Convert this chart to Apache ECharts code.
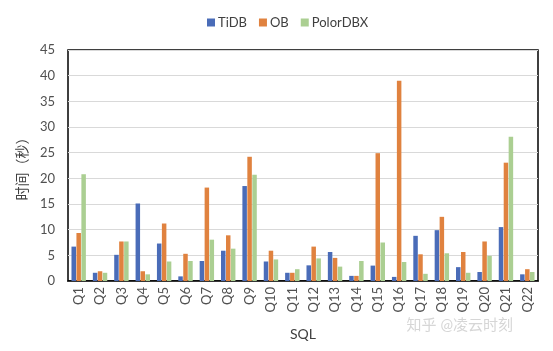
<!DOCTYPE html>
<html>
<head>
<meta charset="utf-8">
<script src="https://cdn.jsdelivr.net/npm/echarts@6/dist/echarts.min.js"></script>
<style>
  html, body { margin: 0; padding: 0; background: #fff; }
  #chart { width: 553px; height: 351px; }
</style>
</head>
<body>
<div id="chart"></div>
<script>
// 查询编号
const queries = ['Q1','Q2','Q3','Q4','Q5','Q6','Q7','Q8','Q9','Q10','Q11','Q12','Q13','Q14','Q15','Q16','Q17','Q18','Q19','Q20','Q21','Q22'];
// 各数据库耗时（秒）
const tidb     = [6.7, 1.6, 5.1, 15.1, 7.3, 0.9, 3.9, 5.9, 18.5, 3.8, 1.6, 3.05, 5.65, 1.0, 3.0, 0.8, 8.8, 9.9, 2.7, 1.75, 10.5, 1.3];
const ob       = [9.35, 1.9, 7.7, 1.9, 11.2, 5.3, 18.2, 8.9, 24.2, 5.9, 1.6, 6.7, 4.5, 1.0, 24.9, 39.0, 5.2, 12.5, 5.65, 7.7, 23.05, 2.3];
const polordbx = [20.8, 1.6, 7.7, 1.3, 3.8, 3.9, 8.05, 6.3, 20.7, 4.2, 2.3, 4.4, 2.8, 3.9, 7.5, 3.7, 1.4, 5.4, 1.6, 4.9, 28.1, 1.75];

const font = 'Lato, "Noto Sans CJK SC", sans-serif';
const myechart = echarts.init(document.getElementById('chart'));

const option = {
  animation: false,
  textStyle: { fontFamily: font },
  legend: {
    left: 202,
    top: 11,
    itemWidth: 8,
    itemHeight: 8,
    itemGap: 12,
    icon: 'rect',
    textStyle: { fontSize: 13, color: '#404040', fontFamily: font, padding: [0, 0, 0, -2] }
  },
  grid: {
    left: 68, right: 15, top: 50, bottom: 70,
    show: true,
    borderColor: '#000',
    borderWidth: 1.5
  },
  xAxis: {
    type: 'category',
    data: queries,
    name: 'SQL',
    nameLocation: 'middle',
    nameGap: 46,
    nameTextStyle: { fontSize: 14, color: '#404040' },
    axisTick: { show: false },
    axisLine: { lineStyle: { color: '#000', width: 1.5 } },
    axisLabel: { rotate: 90, interval: 0, fontSize: 13, color: '#505050', margin: 6 }
  },
  yAxis: {
    type: 'value',
    min: 0, max: 45, interval: 5,
    name: '时间（秒）',
    nameLocation: 'middle',
    nameGap: 38,
    nameRotate: 90,
    nameTextStyle: { fontSize: 14, color: '#404040' },
    axisLine: { show: false },
    axisTick: { show: false },
    axisLabel: { fontSize: 13, color: '#505050', margin: 13 },
    splitLine: { lineStyle: { color: '#d9d9d9', width: 1 } }
  },
  series: [
    { name: 'TiDB', type: 'bar', data: tidb, barWidth: 4.5, barGap: '10%', barCategoryGap: '35%', itemStyle: { color: '#4a6cb8' } },
    { name: 'OB', type: 'bar', data: ob, barWidth: 4.5, barGap: '10%', itemStyle: { color: '#e0823f' } },
    { name: 'PolorDBX', type: 'bar', data: polordbx, barWidth: 4.5, barGap: '10%', itemStyle: { color: '#abcf92' } }
  ],
  graphic: [
    {
      type: 'text',
      right: 40,
      top: 318,
      style: { text: '知乎 @凌云时刻', fontSize: 15, fill: '#d6d6d6', fontFamily: font }
    }
  ]
};
myechart.setOption(option);
</script>
</body>
</html>
